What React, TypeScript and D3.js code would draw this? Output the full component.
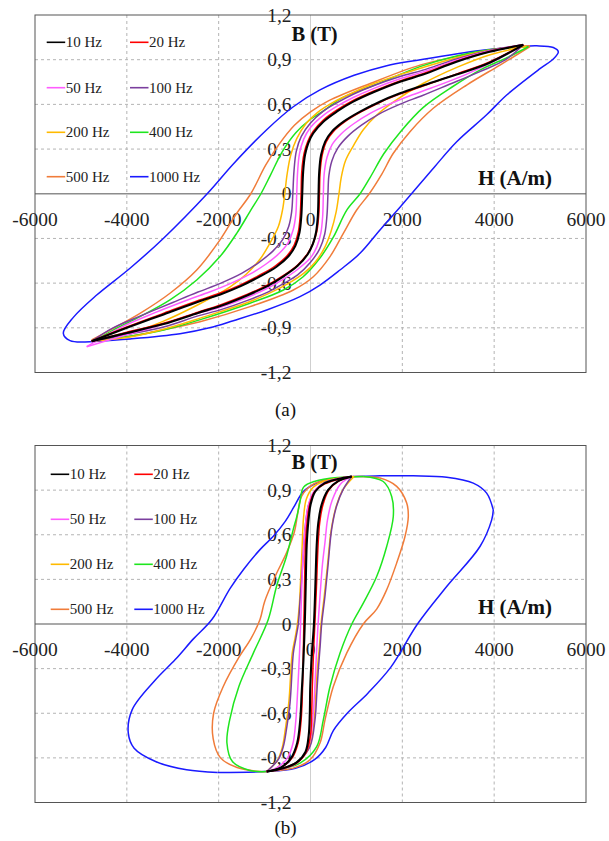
import React from "react";
import * as d3 from "d3";

type P = [number, number];

// ---------- shared axes ----------
const xTicks = [-6000, -4000, -2000, 0, 2000, 4000, 6000];
const xTickLabels = ["-6000", "-4000", "-2000", "0", "2000", "4000", "6000"];
const yTicks = [1.2, 0.9, 0.6, 0.3, 0, -0.3, -0.6, -0.9, -1.2];
const yTickLabels = ["1,2", "0,9", "0,6", "0,3", "0", "-0,3", "-0,6", "-0,9", "-1,2"];

const seriesNames = ["10 Hz", "20 Hz", "50 Hz", "100 Hz", "200 Hz", "400 Hz", "500 Hz", "1000 Hz"];
const seriesColors = ["#000000", "#ff0000", "#ff5cff", "#7b3f9e", "#ffba00", "#1ee61e", "#f07c3a", "#1a1aff"];

// ---------- chart (a) ----------
const a10Up: P[] = [[4634,1.0],[3900,0.953],[3180,0.886],[2450,0.80],[1950,0.752],[1370,0.681],[930,0.618],[570,0.551],[280,0.484],[60,0.406],[-50,0.339],[-120,0.26],[-160,0.148],[-180,0],[-200,-0.148],[-240,-0.26],[-330,-0.35],[-480,-0.42],[-740,-0.49],[-1100,-0.555],[-1520,-0.62],[-1950,-0.674],[-2400,-0.72],[-3200,-0.81],[-4000,-0.9],[-4765,-0.99]];
const a10Lo: P[] = [[-4765,-0.99],[-4000,-0.935],[-3200,-0.875],[-2450,-0.80],[-1950,-0.752],[-1370,-0.681],[-930,-0.618],[-570,-0.551],[-280,-0.484],[-60,-0.406],[50,-0.339],[120,-0.26],[160,-0.148],[175,0],[190,0.148],[230,0.26],[320,0.35],[465,0.417],[720,0.484],[1080,0.551],[1510,0.618],[1950,0.674],[2400,0.722],[3180,0.80],[3900,0.88],[4634,1.0]];
const a20Up: P[] = [[4634,1.0],[3900,0.955],[3180,0.89],[2450,0.806],[1950,0.758],[1370,0.688],[930,0.626],[570,0.561],[280,0.495],[60,0.42],[-60,0.35],[-140,0.27],[-190,0.15],[-205,0],[-225,-0.148],[-265,-0.255],[-355,-0.345],[-505,-0.415],[-770,-0.485],[-1130,-0.55],[-1550,-0.615],[-1980,-0.668],[-2430,-0.715],[-3220,-0.805],[-4000,-0.895],[-4765,-0.99]];
const a20Lo: P[] = [[-4765,-0.99],[-4000,-0.93],[-3200,-0.87],[-2450,-0.795],[-1950,-0.745],[-1370,-0.675],[-930,-0.612],[-570,-0.545],[-280,-0.478],[-60,-0.4],[60,-0.33],[140,-0.25],[180,-0.14],[195,0],[210,0.148],[255,0.26],[345,0.35],[495,0.417],[750,0.484],[1110,0.551],[1540,0.618],[1975,0.672],[2420,0.72],[3190,0.805],[3900,0.885],[4634,1.0]];
const a50Up: P[] = [[4634,1.0],[3900,0.958],[3180,0.897],[2450,0.818],[1950,0.772],[1370,0.706],[930,0.646],[570,0.586],[280,0.526],[0,0.445],[-150,0.365],[-240,0.27],[-280,0.15],[-300,0],[-320,-0.14],[-380,-0.245],[-490,-0.33],[-680,-0.4],[-960,-0.47],[-1320,-0.54],[-1760,-0.605],[-2200,-0.66],[-2650,-0.71],[-3400,-0.8],[-4150,-0.9],[-4874,-1.027]];
const a50Lo: P[] = [[-4874,-1.027],[-4150,-0.96],[-3400,-0.895],[-2600,-0.815],[-2000,-0.765],[-1400,-0.698],[-950,-0.636],[-590,-0.573],[-290,-0.51],[0,-0.43],[140,-0.355],[225,-0.265],[265,-0.15],[280,0],[300,0.14],[360,0.245],[470,0.33],[660,0.4],[940,0.47],[1300,0.54],[1740,0.605],[2180,0.66],[2630,0.71],[3380,0.8],[4000,0.89],[4634,1.0]];
const a100Up: P[] = [[4634,1.0],[3900,0.962],[3180,0.905],[2450,0.83],[1950,0.787],[1370,0.725],[930,0.668],[570,0.61],[280,0.555],[0,0.475],[-200,0.385],[-310,0.285],[-360,0.15],[-385,0],[-410,-0.12],[-475,-0.22],[-600,-0.305],[-820,-0.385],[-1120,-0.46],[-1500,-0.535],[-1950,-0.6],[-2450,-0.66],[-3000,-0.73],[-3700,-0.82],[-4300,-0.9],[-4765,-0.99]];
const a100Lo: P[] = [[-4765,-0.99],[-4000,-0.945],[-3200,-0.895],[-2450,-0.82],[-1950,-0.778],[-1370,-0.716],[-930,-0.66],[-570,-0.6],[-280,-0.545],[0,-0.46],[200,-0.37],[310,-0.27],[360,-0.14],[380,0],[400,0.12],[465,0.22],[590,0.305],[810,0.385],[1110,0.46],[1490,0.535],[1940,0.6],[2440,0.66],[2990,0.73],[3690,0.82],[4250,0.9],[4634,1.0]];
const a200Up: P[] = [[4700,0.99],[3930,0.965],[3200,0.915],[2450,0.848],[1950,0.8],[1370,0.738],[930,0.68],[500,0.615],[150,0.545],[-100,0.47],[-300,0.37],[-430,0.26],[-510,0.13],[-560,0],[-610,-0.11],[-700,-0.22],[-880,-0.33],[-1100,-0.44],[-1400,-0.54],[-1750,-0.625],[-2450,-0.745],[-3200,-0.855],[-3930,-0.937],[-4765,-0.99]];
const a200Lo: P[] = [[-4765,-0.99],[-3930,-0.962],[-3200,-0.91],[-2450,-0.84],[-1950,-0.79],[-1370,-0.73],[-930,-0.672],[-500,-0.605],[-150,-0.535],[100,-0.46],[310,-0.36],[450,-0.25],[560,-0.12],[620,0],[670,0.11],[760,0.22],[930,0.32],[1150,0.43],[1450,0.53],[1800,0.615],[2450,0.74],[3200,0.85],[3930,0.935],[4700,0.99]];
const a400Up: P[] = [[4743,0.987],[3900,0.967],[3180,0.925],[2400,0.855],[1400,0.73],[700,0.645],[300,0.56],[0,0.5],[-320,0.41],[-620,0.28],[-880,0.12],[-1080,0],[-1300,-0.11],[-1607,-0.266],[-1971,-0.422],[-2478,-0.579],[-3060,-0.713],[-3713,-0.825],[-4294,-0.915],[-4700,-0.986]];
const a400Lo: P[] = [[-4700,-0.986],[-3900,-0.955],[-3200,-0.915],[-2400,-0.845],[-1320,-0.735],[-590,-0.646],[-160,-0.557],[210,-0.43],[500,-0.29],[790,-0.11],[1080,0],[1300,0.11],[1600,0.27],[1970,0.42],[2457,0.58],[3100,0.72],[3750,0.84],[4290,0.915],[4743,0.987]];
const a500Up: P[] = [[4780,0.994],[4100,0.975],[3400,0.935],[2400,0.865],[1300,0.74],[400,0.625],[0,0.55],[-350,0.46],[-690,0.33],[-980,0.19],[-1300,0],[-1607,-0.131],[-1971,-0.31],[-2478,-0.512],[-3060,-0.668],[-3713,-0.803],[-4294,-0.903],[-4765,-0.982]];
const a500Lo: P[] = [[-4765,-0.982],[-4100,-0.965],[-3400,-0.925],[-2406,-0.859],[-1317,-0.758],[-374,-0.646],[61,-0.557],[425,-0.422],[715,-0.266],[1006,-0.109],[1280,0],[1550,0.13],[1800,0.27],[2167,0.417],[2674,0.574],[3401,0.73],[4127,0.864],[4780,0.987]];
const a1000Up: P[] = [[4780,0.992],[3700,0.962],[2300,0.895],[1660,0.86],[950,0.795],[207,0.697],[-374,0.584],[-954,0.43],[-1681,0.2],[-2250,0.0],[-3206,-0.3],[-3931,-0.5],[-4656,-0.68],[-5165,-0.83],[-5383,-0.937],[-5237,-0.986],[-4802,-0.993]];
const a1000Lo: P[] = [[-4802,-0.993],[-3931,-0.975],[-2842,-0.94],[-2200,-0.9],[-1681,-0.852],[-954,-0.78],[-229,-0.691],[207,-0.613],[642,-0.512],[1078,-0.4],[1513,-0.243],[1949,-0.09],[2200,0],[2700,0.18],[3184,0.349],[3836,0.53],[4273,0.663],[4998,0.84],[5288,0.905],[5397,0.953],[5288,0.982],[4926,0.993],[4780,0.992]];

// ---------- chart (b) ----------
const b10Up: P[] = [[897,0.992],[600,0.975],[300,0.945],[100,0.89],[0,0.8],[-50,0.68],[-83,0.53],[-105,0.25],[-125,0],[-155,-0.25],[-190,-0.45],[-225,-0.65],[-290,-0.8],[-420,-0.9],[-650,-0.965],[-954,-0.992]];
const b10Lo: P[] = [[-954,-0.992],[-600,-0.97],[-300,-0.93],[-110,-0.86],[-40,-0.75],[-15,-0.6],[-5,-0.42],[30,-0.2],[75,0],[105,0.25],[135,0.53],[170,0.68],[240,0.8],[380,0.9],[600,0.96],[897,0.992]];
const b20Up: P[] = [[897,0.992],[600,0.972],[300,0.94],[80,0.885],[-20,0.8],[-75,0.68],[-110,0.53],[-130,0.25],[-145,0],[-160,-0.25],[-175,-0.45],[-205,-0.65],[-270,-0.8],[-400,-0.9],[-640,-0.965],[-954,-0.992]];
const b20Lo: P[] = [[-954,-0.992],[-600,-0.972],[-300,-0.935],[-90,-0.86],[0,-0.75],[25,-0.6],[40,-0.42],[65,-0.2],[95,0],[130,0.25],[165,0.53],[200,0.68],[270,0.8],[400,0.9],[620,0.962],[897,0.992]];
const b50Up: P[] = [[897,0.992],[550,0.975],[250,0.94],[50,0.88],[-60,0.78],[-130,0.6],[-170,0.4],[-195,0.2],[-215,0],[-240,-0.2],[-280,-0.45],[-320,-0.65],[-380,-0.8],[-500,-0.9],[-700,-0.96],[-954,-0.992]];
const b50Lo: P[] = [[-954,-0.992],[-620,-0.975],[-320,-0.94],[-120,-0.87],[0,-0.77],[60,-0.6],[95,-0.42],[130,-0.2],[165,0],[210,0.2],[260,0.4],[316,0.55],[370,0.7],[470,0.83],[650,0.94],[897,0.992]];
const b100Up: P[] = [[897,0.992],[570,0.974],[300,0.95],[135,0.907],[20,0.85],[-48,0.795],[-120,0.638],[-160,0.45],[-192,0.302],[-230,0.15],[-265,0],[-320,-0.1],[-374,-0.196],[-446,-0.532],[-520,-0.7],[-592,-0.824],[-700,-0.91],[-954,-0.992]];
const b100Lo: P[] = [[-954,-0.992],[-500,-0.96],[-229,-0.913],[-11,-0.824],[98,-0.644],[140,-0.45],[170,-0.308],[210,-0.15],[243,0],[316,0.19],[388,0.414],[461,0.638],[570,0.795],[715,0.907],[897,0.992]];
const b200Up: P[] = [[950,0.992],[560,0.978],[250,0.955],[60,0.92],[-90,0.84],[-150,0.72],[-185,0.5],[-215,0.3],[-245,0.12],[-285,0],[-340,-0.1],[-400,-0.2],[-470,-0.52],[-545,-0.7],[-615,-0.83],[-720,-0.915],[-954,-0.992]];
const b200Lo: P[] = [[-954,-0.992],[-520,-0.962],[-250,-0.918],[-30,-0.83],[80,-0.65],[120,-0.45],[150,-0.3],[195,-0.15],[230,0],[300,0.19],[375,0.41],[450,0.63],[560,0.79],[710,0.905],[950,0.992]];
const b400Up: P[] = [[1150,0.992],[600,0.985],[100,0.96],[-150,0.92],[-230,0.82],[-300,0.72],[-374,0.638],[-519,0.459],[-736,0.257],[-920,0.03],[-1245,-0.196],[-1560,-0.42],[-1760,-0.644],[-1820,-0.8],[-1700,-0.925],[-1318,-0.985],[-954,-0.992]];
const b400Lo: P[] = [[-954,-0.992],[-229,-0.935],[135,-0.824],[279,-0.644],[425,-0.42],[642,-0.196],[900,0],[1150,0.14],[1441,0.319],[1659,0.521],[1803,0.723],[1768,0.857],[1585,0.958],[1150,0.992]];
const b500Up: P[] = [[1006,0.992],[425,0.974],[61,0.94],[-192,0.86],[-280,0.74],[-350,0.62],[-520,0.48],[-770,0.32],[-1000,0.15],[-1100,0.03],[-1300,-0.1],[-1550,-0.22],[-1900,-0.42],[-2110,-0.6],[-2120,-0.77],[-1960,-0.9],[-1600,-0.965],[-1100,-0.992],[-954,-0.992]];
const b500Lo: P[] = [[-954,-0.992],[-374,-0.969],[-11,-0.913],[207,-0.8],[316,-0.644],[497,-0.42],[788,-0.196],[1150,0],[1441,0.1],[1659,0.23],[1877,0.41],[2058,0.588],[2130,0.723],[2095,0.813],[1877,0.925],[1513,0.981],[1006,0.992]];
const b1000Up: P[] = [[3981,0.767],[3836,0.88],[3545,0.947],[2966,0.987],[2239,0.996],[1513,0.996],[860,0.99],[500,0.975],[150,0.95],[-156,0.89],[-374,0.78],[-550,0.69],[-810,0.59],[-1100,0.5],[-1450,0.37],[-1750,0.24],[-2148,0.03],[-2550,-0.1],[-2951,-0.241],[-3375,-0.375],[-3885,-0.577],[-3968,-0.734],[-3841,-0.835],[-3375,-0.924],[-2698,-0.98],[-2023,-0.998]];
const b1000Lo: P[] = [[-2023,-0.998],[-1006,-0.992],[-329,-0.97],[94,-0.91],[330,-0.83],[500,-0.715],[800,-0.6],[1250,-0.465],[1750,-0.29],[2330,0],[2966,0.252],[3691,0.521],[3946,0.70],[3981,0.767]];

const chartALoops: P[][][] = [[a10Up, a10Lo], [a20Up, a20Lo], [a50Up, a50Lo], [a100Up, a100Lo], [a200Up, a200Lo], [a400Up, a400Lo], [a500Up, a500Lo], [a1000Up, a1000Lo]];
const chartBLoops: P[][][] = [[b10Up, b10Lo], [b20Up, b20Lo], [b50Up, b50Lo], [b100Up, b100Lo], [b200Up, b200Lo], [b400Up, b400Lo], [b500Up, b500Lo], [b1000Up, b1000Lo]];

const SERIF = "'Liberation Serif', 'Times New Roman', serif";

function Chart({ loops, top, bottom, caption, captionY, legendRows, bTitleY, hTitleY, legendX }: any) {
  const x = d3.scaleLinear().domain([-6000, 6000]).range([35, 586]);
  const y = d3.scaleLinear().domain([-1.2, 1.2]).range([bottom, top]);
  const line = d3.line<P>().x((d) => x(d[0])).y((d) => y(d[1])).curve(d3.curveCatmullRom.alpha(0.5));
  const order = [7, 6, 5, 4, 3, 2, 1, 0];
  return (
    <g>
      {xTicks.filter((t) => t !== 0 && Math.abs(t) !== 6000).map((t) => (
        <line key={"gx" + t} x1={x(t)} x2={x(t)} y1={y(1.2)} y2={y(-1.2)} stroke="#b4b4b4" strokeDasharray="3,3" strokeWidth={1} />
      ))}
      {yTicks.filter((t) => t !== 0 && Math.abs(t) !== 1.2).map((t) => (
        <line key={"gy" + t} x1={x(-6000)} x2={x(6000)} y1={y(t)} y2={y(t)} stroke="#b4b4b4" strokeDasharray="3,3" strokeWidth={1} />
      ))}
      <line x1={x(0)} x2={x(0)} y1={y(1.2)} y2={y(-1.2)} stroke="#cfcfcf" strokeWidth={1} />
      <line x1={x(-6000)} x2={x(6000)} y1={y(0)} y2={y(0)} stroke="#8c8c8c" strokeWidth={1.5} />
      <rect x={x(-6000)} y={y(1.2)} width={x(6000) - x(-6000)} height={y(-1.2) - y(1.2)} fill="none" stroke="#555" strokeWidth={1} />
      {xTicks.map((t, i) => (
        <text key={"xl" + t} x={x(t)} y={y(0) + 32} textAnchor="middle" fontFamily={SERIF} fontSize={19.5} fill="#222">{xTickLabels[i]}</text>
      ))}
      {yTicks.map((t, i) => (
        <text key={"yl" + t} x={x(0) - 19} y={y(t) + 6.5} textAnchor="end" fontFamily={SERIF} fontSize={19.5} fill="#222">{yTickLabels[i]}</text>
      ))}
      <text x={291.5} y={bTitleY} fontFamily={SERIF} fontWeight="bold" fontSize={20.5} fill="#111">B (T)</text>
      <text x={478} y={hTitleY} fontFamily={SERIF} fontWeight="bold" fontSize={21} fill="#111">H (A/m)</text>
      {legendRows.map((ry: number, r: number) => [0, 1].map((c) => {
        const idx = r * 2 + c;
        const lx = legendX[c];
        return (
          <g key={"lg" + idx}>
            <line x1={lx} x2={lx + 18.5} y1={ry} y2={ry} stroke={seriesColors[idx]} strokeWidth={1.6} />
            <text x={lx + 19} y={ry + 5} fontFamily={SERIF} fontSize={15} fill="#222">{seriesNames[idx]}</text>
          </g>
        );
      }))}
      {order.map((i) => (
        <g key={"s" + i}>
          {loops[i].map((br: P[], j: number) => (
            <path key={j} d={line(br) || ""} fill="none" stroke={seriesColors[i]} strokeWidth={i === 0 ? 2.1 : 1.5} strokeLinejoin="round" />
          ))}
        </g>
      ))}
      <text x={285.5} y={captionY} textAnchor="middle" fontFamily={SERIF} fontSize={19} fill="#111">{caption}</text>
    </g>
  );
}

export default function App() {
  return (
    <svg width={609} height={841} style={{ position: "absolute", left: 0, top: 0, background: "#fff" }}>
      <rect width={609} height={841} fill="#fff" />
      <Chart loops={chartALoops} top={15} bottom={372.5} caption="(a)" captionY={416} legendRows={[42.3, 87.7, 132.3, 176.7]} legendX={[46.7, 130]} bTitleY={40.5} hTitleY={184.5} />
      <Chart loops={chartBLoops} top={445.5} bottom={802.5} caption="(b)" captionY={834} legendRows={[474.3, 519.3, 564.3, 609.3]} legendX={[50.7, 134.3]} bTitleY={469} hTitleY={614.3} />
    </svg>
  );
}
